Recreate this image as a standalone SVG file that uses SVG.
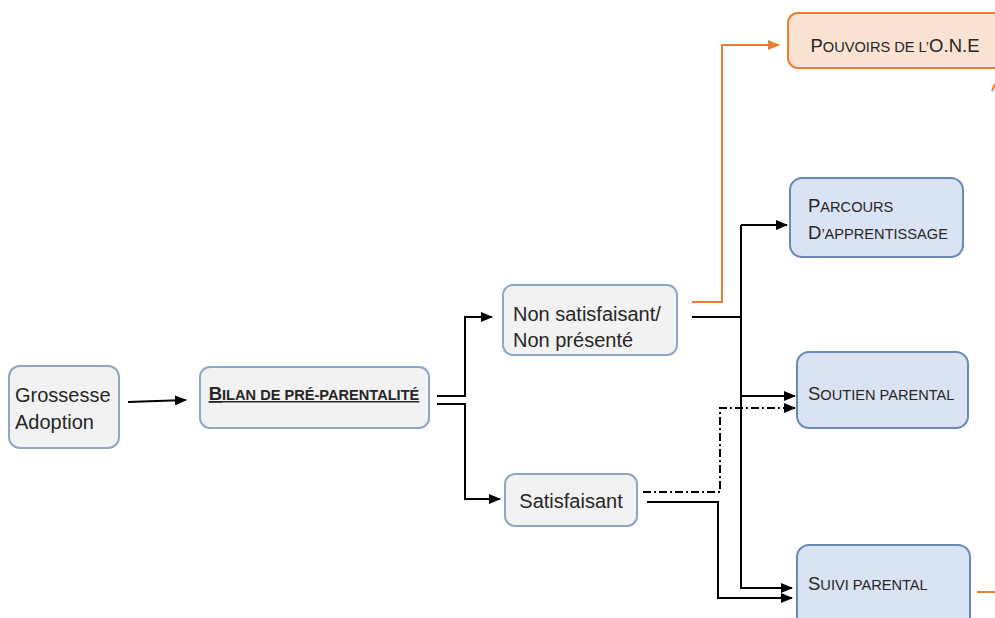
<svg xmlns="http://www.w3.org/2000/svg" width="995" height="618" viewBox="0 0 995 618">
<defs>
<marker id="ah" markerWidth="12" markerHeight="10" refX="11" refY="5" orient="auto" markerUnits="userSpaceOnUse"><path d="M0,0 L12,5 L0,10 Z" fill="#000"/></marker>
<marker id="aho" markerWidth="12" markerHeight="10" refX="11" refY="5" orient="auto" markerUnits="userSpaceOnUse"><path d="M0,0 L12,5 L0,10 Z" fill="#ED7D31"/></marker>
<style>
.grey{fill:#F2F2F2;stroke:#8FA6C6;stroke-width:2}
.blue{fill:#DAE3F3;stroke:#6A88B4;stroke-width:2}
.orng{fill:#FBE3D3;stroke:#ED7D31;stroke-width:2}
.t{font-family:"Liberation Sans",Arial,sans-serif;font-size:20px;fill:#262626}
.sc{font-family:"Liberation Sans",Arial,sans-serif;font-size:14.6px;fill:#262626}
.big{font-size:18.5px}
.c{fill:none;stroke:#000;stroke-width:2}
.co{fill:none;stroke:#ED7D31;stroke-width:2}
.dd{stroke-dasharray:8 3 2 3}
</style>
</defs>
<g id="connectors">
<line class="c" x1="128" y1="402" x2="186" y2="400" marker-end="url(#ah)"/>
<polyline class="c" points="437,396 465,396 465,317 492,317" marker-end="url(#ah)"/>
<polyline class="c" points="437,404 465,404 465,499 500,499" marker-end="url(#ah)"/>
<polyline class="co" points="692,302 722,302 722,45 779,45" marker-end="url(#aho)"/>
<polyline class="c" points="692,317 741,317"/>
<polyline class="c" points="741,225 741,588 792,588" marker-end="url(#ah)"/>
<polyline class="c" points="741,225 787,225" marker-end="url(#ah)"/>
<polyline class="c" points="741,396 795,396" marker-end="url(#ah)"/>
<polyline class="c dd" points="643,492 720,492 720,408 795,408" marker-end="url(#ah)"/>
<polyline class="c" points="647,502 718,502 718,598 792,598" marker-end="url(#ah)"/>
<line class="co" x1="977" y1="592" x2="995" y2="592"/>
<line class="co" x1="992" y1="91" x2="995" y2="84"/>
</g>
<g id="grossesse">
<rect class="grey" x="9" y="366" width="110" height="82" rx="11"/>
<text class="t" x="15" y="402" font-size="18.6">Grossesse</text>
<text class="t" x="15" y="429" font-size="18.6">Adoption</text>
</g>
<g id="bilan">
<rect class="grey" x="200" y="367" width="229" height="61" rx="10"/>
<text class="sc" x="314" y="400" text-anchor="middle" font-weight="bold" text-decoration="underline" font-size="14.3"><tspan class="big">B</tspan>ILAN DE PRÉ-PARENTALITÉ</text>
</g>
<g id="nonsatisfaisant">
<rect class="grey" x="503" y="285" width="174" height="70" rx="10"/>
<text class="t" x="513" y="321">Non satisfaisant/</text>
<text class="t" x="513" y="347">Non présenté</text>
</g>
<g id="satisfaisant">
<rect class="grey" x="505" y="474" width="132" height="52" rx="10"/>
<text class="t" x="571" y="508" text-anchor="middle">Satisfaisant</text>
</g>
<g id="pouvoirs">
<rect class="orng" x="788" y="13" width="220" height="55" rx="10"/>
<text class="sc" x="895" y="52" text-anchor="middle"><tspan class="big">P</tspan>OUVOIRS DE L’<tspan class="big">O.N.E</tspan></text>
</g>
<g id="parcours">
<rect class="blue" x="790" y="178" width="173" height="79" rx="12"/>
<text class="sc" x="808" y="212"><tspan class="big">P</tspan>ARCOURS</text>
<text class="sc" x="808" y="239"><tspan class="big">D</tspan>’APPRENTISSAGE</text>
</g>
<g id="soutien">
<rect class="blue" x="797" y="352" width="171" height="76" rx="12"/>
<text class="sc" x="808" y="400"><tspan class="big">S</tspan>OUTIEN PARENTAL</text>
</g>
<g id="suivi">
<rect class="blue" x="797" y="545" width="173" height="90" rx="12"/>
<text class="sc" x="808" y="590"><tspan class="big">S</tspan>UIVI PARENTAL</text>
</g>
</svg>
